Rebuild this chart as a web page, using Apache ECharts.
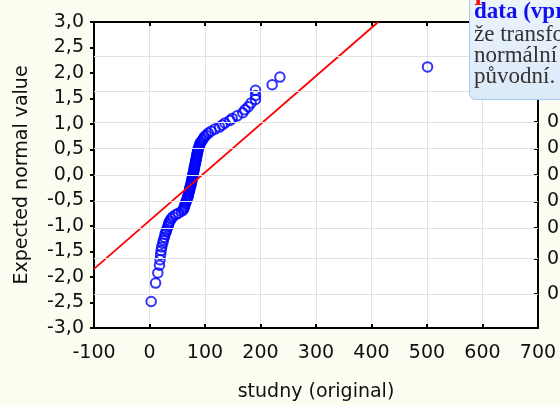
<!DOCTYPE html>
<html>
<head>
<meta charset="utf-8">
<script src="https://cdn.jsdelivr.net/npm/echarts@6/dist/echarts.min.js"></script>
<style>
html,body{margin:0;padding:0;background:#fdfcf1;}
#c{width:560px;height:406px;}
</style>
</head>
<body>
<div id="c"></div>
<script>
// observed values (studny original) and expected normal values
const xVals = [3, 11, 15, 18, 19, 20, 21, 22, 24, 25,
  27, 28, 30, 31, 33, 34, 35, 37, 39, 42,
  47, 52, 58, 61, 62, 63, 64, 65, 66, 67,
  68, 69, 70, 70, 71, 72, 72, 73, 73, 74,
  75, 75, 76, 76, 77, 77, 78, 78,
  79, 79, 80, 80, 81, 81, 82, 82, 83, 83,
  84, 84, 85, 85, 86, 86, 87, 87, 88, 89,
  90, 91, 93, 95, 97, 99, 102, 106, 111, 118,
  126, 131, 136, 145, 149, 158, 168, 172, 178, 183,
  191, 191, 191, 221, 235, 501];
const yVals = [-2.48,-2.12,-1.92,-1.77,-1.66,-1.56,-1.48,-1.41,-1.34,-1.28,
  -1.22,-1.16,-1.11,-1.07,-1.02,-0.98,-0.94,-0.90,-0.86,-0.82,
  -0.78,-0.75,-0.71,-0.68,-0.65,-0.62,-0.58,-0.55,-0.52,-0.49,
  -0.46,-0.43,-0.41,-0.38,-0.35,-0.32,-0.29,-0.27,-0.24,-0.21,
  -0.19,-0.16,-0.13,-0.11,-0.08,-0.05,-0.03,0.00,
  0.03,0.05,0.08,0.11,0.13,0.16,0.19,0.21,0.24,0.27,
  0.29,0.32,0.35,0.38,0.41,0.43,0.46,0.49,0.52,0.55,
  0.58,0.62,0.65,0.68,0.71,0.75,0.78,0.82,0.86,0.90,
  0.94,0.98,1.02,1.07,1.11,1.16,1.22,1.28,1.34,1.41,
  1.48,1.56,1.66,1.77,1.92,2.12];
// fitted line end points
const lineX = [-100, 412];
const lineY = [-1.84, 3.0];
// probability scale (right axis) labels and their normal values
const probLabels = ['0,01','0,05','0,15','0,30','0,50','0,70','0,85','0,95','0,99'];
const probZ = [-2.33,-1.64,-1.04,-0.52,0,0.52,1.04,1.64,2.33];
// axis names
const xName = 'studny (original)';
const yName = 'Expected normal value';
// note box text
const noteLines = ['data (vpr', 'že transfo', 'normální', 'původní.'];

const font = 'DejaVu Sans';
const serif = 'Liberation Serif';
const chart = echarts.init(document.getElementById('c'), null, {renderer:'canvas'});
const fmt = v => v.toFixed(1).replace('.', ',');
const noteText = (txt, y, bold, color) => ({
  type: 'text', z: 101, x: 474, y: y,
  style: {text: txt, fontFamily: serif, fontSize: 23, fontWeight: bold ? 'bold' : 'normal', fill: color}
});

const option = {
  animation: false,
  backgroundColor: '#fdfcf1',
  textStyle: {fontFamily: font},
  grid: {left: 94, right: 22, top: 22, bottom: 78, show: true, backgroundColor: '#ffffff', borderWidth: 0,
    containLabel: false, outerBoundsMode: 'none'},
  xAxis: [{
    type: 'value', min: -100, max: 700, interval: 100, position: 'bottom',
    name: xName, nameLocation: 'middle', nameGap: 55,
    nameTextStyle: {fontSize: 19, color: '#111', fontFamily: font},
    axisLine: {show: true, onZero: false, lineStyle: {color: '#000', width: 2}},
    axisTick: {show: true, inside: true, length: 4, lineStyle: {color: '#000', width: 2}},
    axisLabel: {fontSize: 19, color: '#111', margin: 16, fontFamily: font},
    splitLine: {show: true, lineStyle: {color: '#e2e2e2', width: 1}}
  }, {
    type: 'value', min: -100, max: 700, interval: 100, position: 'top',
    axisLine: {show: true, onZero: false, lineStyle: {color: '#000', width: 2}},
    axisTick: {show: true, inside: true, length: 4, lineStyle: {color: '#000', width: 2}},
    axisLabel: {show: false}, splitLine: {show: false}
  }],
  yAxis: [{
    type: 'value', min: -3, max: 3, interval: 0.5, position: 'left',
    name: yName, nameLocation: 'middle', nameGap: 62,
    nameTextStyle: {fontSize: 19, color: '#111', fontFamily: font},
    axisLine: {show: true, onZero: false, lineStyle: {color: '#000', width: 2}},
    axisTick: {show: true, inside: false, length: 4, lineStyle: {color: '#000', width: 2}},
    axisLabel: {fontSize: 19, color: '#111', margin: 10, formatter: fmt, fontFamily: font},
    splitLine: {show: false}
  }, {
    type: 'value', min: -3, max: 3, position: 'right',
    axisLine: {show: true, onZero: false, lineStyle: {color: '#000', width: 2}},
    axisTick: {show: true, inside: true, length: 4, customValues: probZ, lineStyle: {color: '#000', width: 2}},
    axisLabel: {fontSize: 19, color: '#111', margin: 9, customValues: probZ, fontFamily: font,
      formatter: v => { const i = probZ.indexOf(v); return i >= 0 ? probLabels[i] : ''; }},
    splitLine: {show: false}
  }],
  series: [{
    type: 'scatter', data: [], silent: true,
    markLine: {
      silent: true, symbol: 'none', label: {show: false},
      lineStyle: {color: '#e2e2e2', width: 1, type: 'solid'},
      data: probZ.map(z => ({yAxis: z}))
    }
  }, {
    type: 'line', data: lineX.map((x, i) => [x, lineY[i]]),
    showSymbol: false, symbol: 'none', clip: true,
    lineStyle: {color: '#ff0000', width: 1.8}
  }, {
    type: 'scatter', data: xVals.map((x, i) => [x, yVals[i]]),
    symbol: 'circle', symbolSize: 9.5,
    itemStyle: {color: 'rgba(0,0,0,0)', borderColor: '#0000ff', borderWidth: 2}
  }],
  graphic: [{
    type: 'rect', z: 100,
    shape: {x: 469.5, y: -12, width: 120, height: 111.5, r: 6},
    style: {
      fill: {type: 'linear', x: 0, y: 0, x2: 0, y2: 1, colorStops: [
        {offset: 0, color: '#eef5fc'}, {offset: 1, color: '#dbe9f8'}]},
      stroke: '#a3cbef', lineWidth: 1
    }
  },
  noteText('P', -12, true, '#ee1111'),
  noteText(noteLines[0], 1, true, '#1010f0'),
  noteText(noteLines[1], 23, false, '#333333'),
  noteText(noteLines[2], 44, false, '#333333'),
  noteText(noteLines[3], 65, false, '#333333')
  ]
};
chart.setOption(option);
</script>
</body>
</html>
